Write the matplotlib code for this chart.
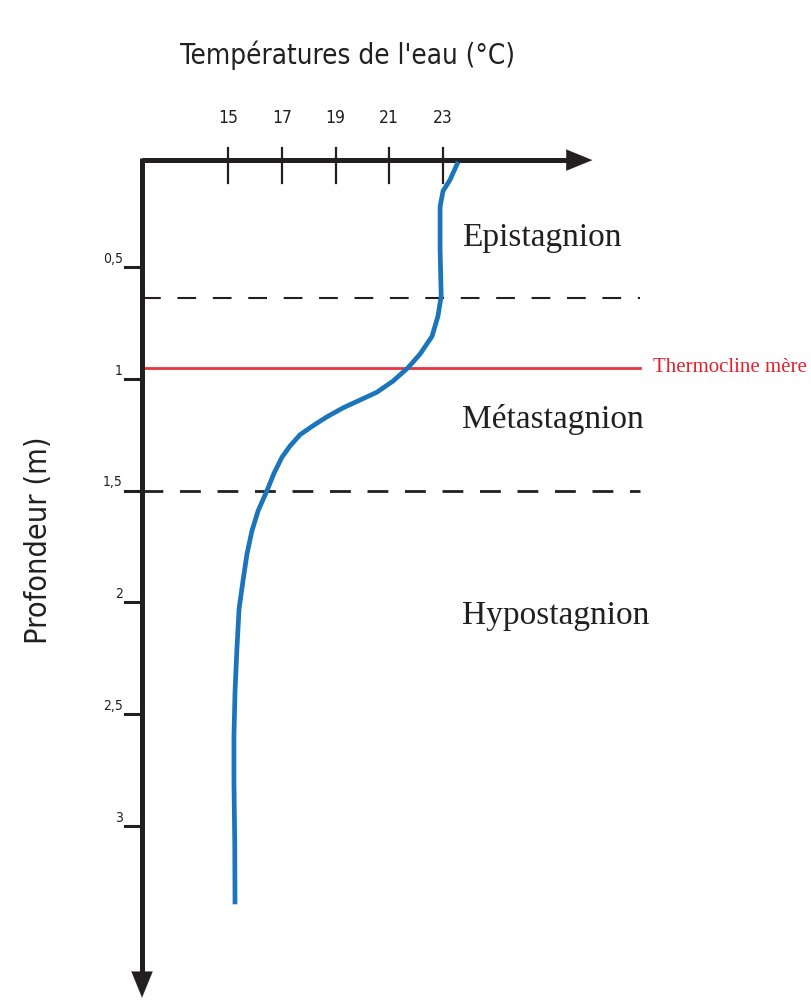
import matplotlib
matplotlib.use("Agg")
import matplotlib.pyplot as plt

# ---- data ----
temperature = [23.56, 23.26, 23.00, 22.89, 22.89, 22.93, 22.81, 22.59, 22.14, 21.70,
               21.14, 20.54, 19.91, 19.28, 18.68, 18.16, 17.68, 17.31, 17.01, 16.72,
               16.45, 16.12, 15.89, 15.71, 15.56, 15.41, 15.33, 15.26, 15.22, 15.22,
               15.25, 15.26]
depth = [0.03, 0.11, 0.16, 0.23, 0.42, 0.63, 0.72, 0.81, 0.89, 0.95,
         1.01, 1.06, 1.095, 1.13, 1.17, 1.21, 1.25, 1.30, 1.35, 1.42,
         1.50, 1.59, 1.68, 1.78, 1.90, 2.03, 2.21, 2.40, 2.60, 2.80,
         3.08, 3.35]

x_ticks = [15, 17, 19, 21, 23]
x_tick_labels = ["15", "17", "19", "21", "23"]
y_ticks = [0.5, 1.0, 1.5, 2.0, 2.5, 3.0]
y_tick_labels = ["0,5", "1", "1,5", "2", "2,5", "3"]

zone_names = ["Epistagnion", "Métastagnion", "Hypostagnion"]
zone_label_depths = [0.37, 1.18, 2.06]
zone_bounds = [0.64, 1.50]
thermocline_depth = 0.95

title_text = "Températures de l'eau (°C)"
ylabel_text = "Profondeur (m)"
thermo_text = "Thermocline mère"

# ---- figure ----
fig = plt.figure(figsize=(8.11, 10.02), dpi=100)
ax = fig.add_axes([0, 0, 1, 1])
ax.set_xlim(6.516, 36.69)
ax.set_ylim(3.787, -0.694)
ax.axis("off")

x0 = 11.8      # left axis position (temperature units)
y_top = 0.022  # top axis position (depth units)
x_end = 28.66
y_end = 3.78
line_end = 30.33
axis_col = "#231f20"
sans = ["DejaVu Sans"]
serif = ["Liberation Serif", "DejaVu Serif"]

# axes with arrows
ax.plot([x0, x_end - 0.5], [y_top, y_top], color=axis_col, lw=3.6, solid_capstyle="butt", zorder=3)
ax.plot([x0, x0], [y_top - 0.011, y_end - 0.06], color=axis_col, lw=3.6, solid_capstyle="butt", zorder=3)
arrow_style = dict(arrowstyle="-|>,head_length=1.1,head_width=0.45", color=axis_col,
                   lw=0.1, mutation_scale=17)
ax.annotate("", xy=(x_end, y_top), xytext=(x_end - 0.8, y_top),
            arrowprops=arrow_style, annotation_clip=False, zorder=4)
ax.annotate("", xy=(x0, y_end), xytext=(x0, y_end - 0.1),
            arrowprops=arrow_style, annotation_clip=False, zorder=4)

# x ticks
for t, lab in zip(x_ticks, x_tick_labels):
    ax.plot([t, t], [y_top - 0.054, y_top + 0.104], color=axis_col, lw=1.6, zorder=3)
    ax.text(t, -0.165, lab, ha="center", va="center", fontsize=12.5,
            family=sans, fontstretch="condensed", color=axis_col)

# y ticks
for d, lab in zip(y_ticks, y_tick_labels):
    ax.plot([x0 - 0.65, x0], [d, d], color=axis_col, lw=2.2, zorder=3)
    ax.text(x0 - 0.72, d - 0.005, lab, ha="right", va="bottom", fontsize=10,
            family=sans, fontstretch="condensed", color=axis_col)

# zone boundaries
ax.plot([x0, line_end], [zone_bounds[0], zone_bounds[0]], color=axis_col, lw=1.5,
        dashes=(9, 8), zorder=2)
ax.plot([x0, line_end], [zone_bounds[1], zone_bounds[1]], color=axis_col, lw=2.0,
        dashes=(7.5, 6), zorder=2)

# thermocline
ax.plot([x0, line_end], [thermocline_depth, thermocline_depth], color="#ea3340", lw=2.0, zorder=2)
ax.text(36.55, thermocline_depth, thermo_text, ha="right", va="center", fontsize=15,
        family=serif, color="#e8202c")

# temperature profile
ax.plot(temperature, depth, color="#1b75bb", lw=3.4, solid_capstyle="butt",
        solid_joinstyle="round", zorder=5)

# zone labels
for name, d in zip(zone_names, zone_label_depths):
    ax.text(23.7, d, name, ha="left", va="center", fontsize=24,
            family=serif, color="#231f20")

# titles
ax.text(19.45, -0.445, title_text, ha="center", va="center", fontsize=20,
        family=sans, fontstretch="condensed", color="#231f20")
ax.text(7.95, 1.72, ylabel_text, ha="center", va="center", rotation=90, fontsize=22,
        family=sans, fontstretch="condensed", color="#231f20")

fig.savefig("out.png", dpi=100)
